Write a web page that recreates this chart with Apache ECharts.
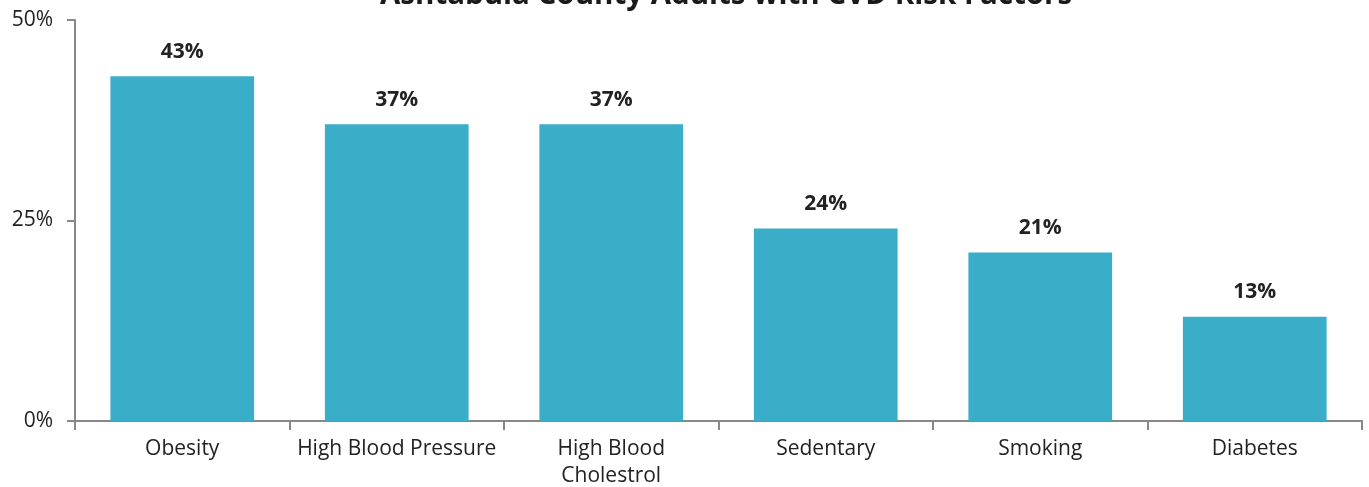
<!DOCTYPE html>
<html><head><meta charset="utf-8">
<script src="https://cdn.jsdelivr.net/npm/echarts@6/dist/echarts.min.js"></script>
<style>html,body{margin:0;padding:0;background:#fff}#c{width:1369px;height:487px}</style>
</head><body><div id="c"></div>
<script>
const titleText = "Ashtabula County Adults with CVD Risk Factors";
const categories = ["Obesity", "High Blood Pressure", "High Blood\nCholestrol", "Sedentary", "Smoking", "Diabetes"];
const values = [43, 37, 37, 24, 21, 13];
const yTicks = [0, 25, 50];

const chart = echarts.init(document.getElementById('c'));
const font = "'Open Sans', 'Noto Sans', sans-serif";
chart.setOption({
  animation: false,
  title: {text: titleText, left: 375, top: -24, textStyle: {fontFamily: font, fontSize: 29.5, fontWeight: 'bold', color: '#1a1a1a'}},
  grid: {left: 75, right: 7, top: 20, bottom: 66, outerBoundsMode: 'none', containLabel: false},
  xAxis: {
    type: 'category', data: categories,
    axisLine: {lineStyle: {color: '#888', width: 2}},
    axisTick: {show: true, interval: 0, length: 9, lineStyle: {color: '#888', width: 2}},
    axisLabel: {interval: 0, fontFamily: font, fontSize: 21, color: '#222', margin: 15, lineHeight: 27}
  },
  yAxis: {
    type: 'value', min: yTicks[0], max: yTicks[yTicks.length-1], interval: 25,
    splitLine: {show: false},
    axisLine: {show: true, lineStyle: {color: '#888', width: 2}},
    axisTick: {show: true, length: 8, lineStyle: {color: '#888', width: 2}},
    axisLabel: {fontFamily: font, fontSize: 21, color: '#222', margin: 22, formatter: v => v + '%'}
  },
  series: [{
    type: 'bar', data: values, barCategoryGap: '33%',
    itemStyle: {color: '#3AAEC8'},
    label: {show: true, position: 'top', distance: 14, fontFamily: font, fontSize: 21, fontWeight: 'bold', color: '#222', formatter: p => p.value + '%'}
  }]
});
</script></body></html>
